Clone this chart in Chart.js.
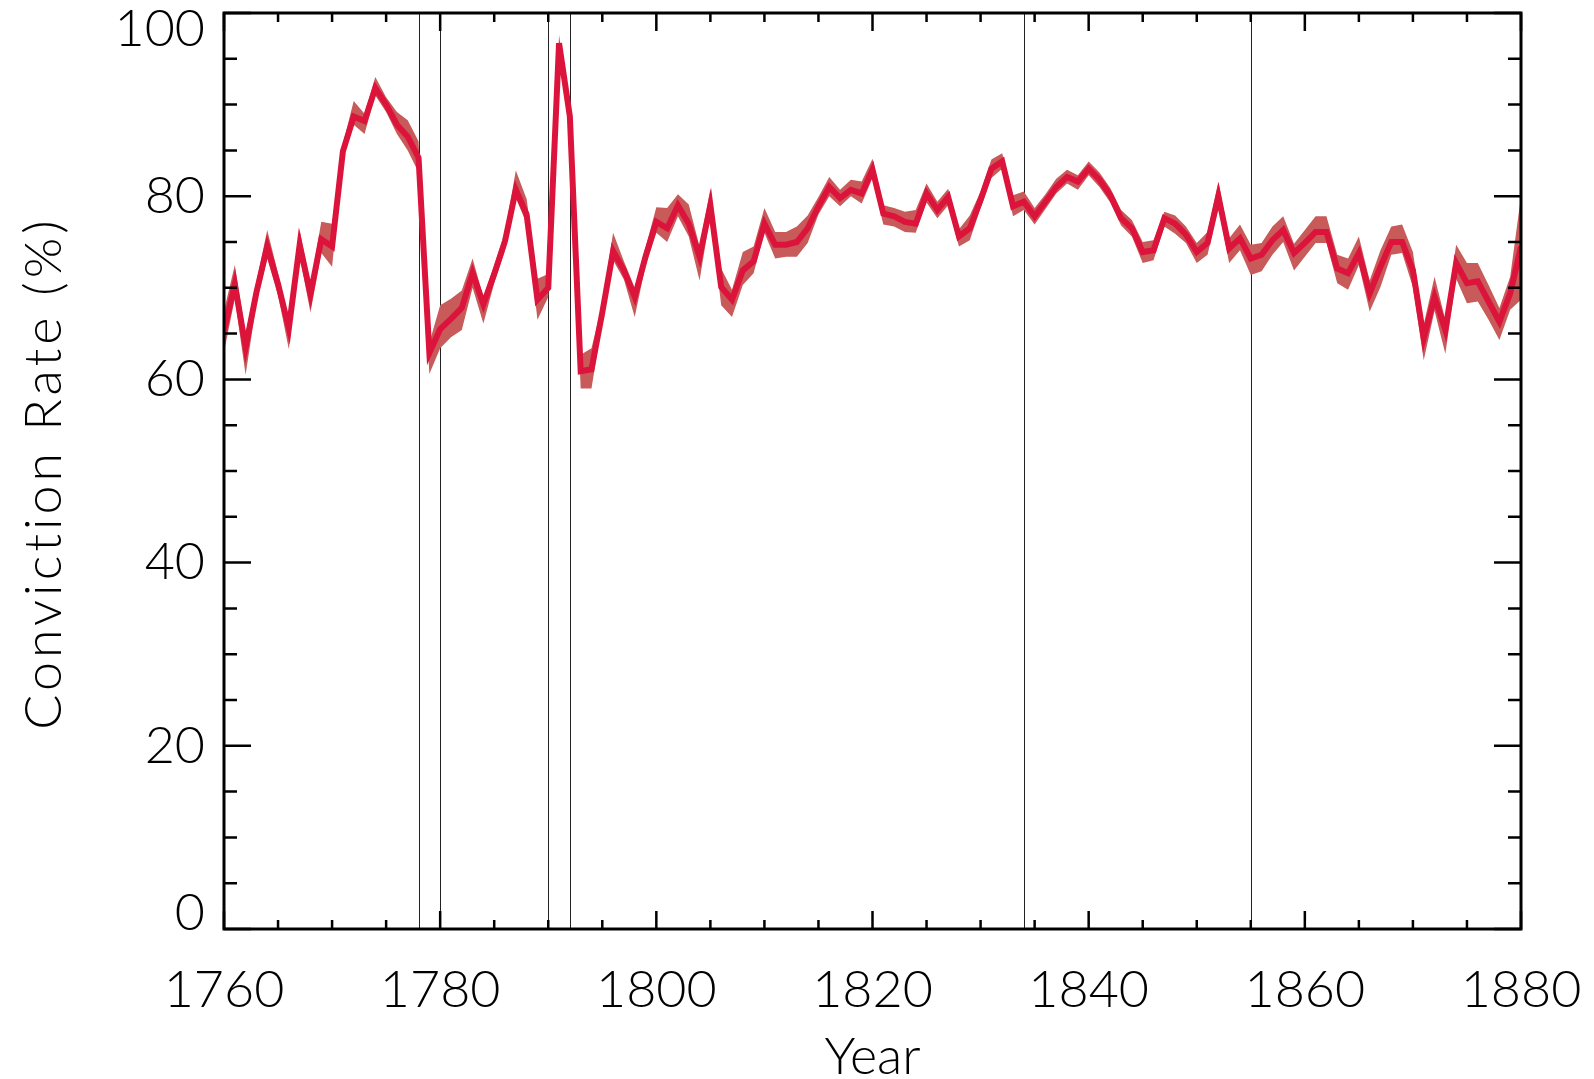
<!DOCTYPE html>
<html>
<head>
<meta charset="utf-8">
<script src="https://cdn.jsdelivr.net/npm/chart.js@4/dist/chart.umd.min.js"></script>
<style>
    html, body { margin: 0; padding: 0; background: #ffffff; }
    #conviction-chart { display: block; }
</style>
</head>
<body>
<canvas id="conviction-chart" width="1594" height="1079"></canvas>
<script>
const years = [
    1760, 1761, 1762, 1763, 1764, 1765, 1766, 1767, 1768, 1769,
    1770, 1771, 1772, 1773, 1774, 1775, 1776, 1777, 1778, 1779,
    1780, 1781, 1782, 1783, 1784, 1785, 1786, 1787, 1788, 1789,
    1790, 1791, 1792, 1793, 1794, 1795, 1796, 1797, 1798, 1799,
    1800, 1801, 1802, 1803, 1804, 1805, 1806, 1807, 1808, 1809,
    1810, 1811, 1812, 1813, 1814, 1815, 1816, 1817, 1818, 1819,
    1820, 1821, 1822, 1823, 1824, 1825, 1826, 1827, 1828, 1829,
    1830, 1831, 1832, 1833, 1834, 1835, 1836, 1837, 1838, 1839,
    1840, 1841, 1842, 1843, 1844, 1845, 1846, 1847, 1848, 1849,
    1850, 1851, 1852, 1853, 1854, 1855, 1856, 1857, 1858, 1859,
    1860, 1861, 1862, 1863, 1864, 1865, 1866, 1867, 1868, 1869,
    1870, 1871, 1872, 1873, 1874, 1875, 1876, 1877, 1878, 1879,
    1880
];

const convictionRate = [
    65.3, 70.4, 63.5, 69.5, 74.5, 70.4, 65.6, 74.7, 69.3, 75.3,
    74.5, 84.9, 88.7, 88.2, 91.8, 90.0, 87.8, 86.5, 84.2, 62.9,
    65.5, 66.6, 67.8, 71.6, 68.2, 71.5, 75.1, 80.7, 78.0, 68.7,
    70.0, 96.7, 88.7, 60.9, 61.1, 67.3, 74.0, 71.9, 69.0, 73.4,
    77.2, 76.5, 79.0, 77.0, 73.4, 79.0, 70.1, 68.7, 71.9, 72.9,
    77.0, 74.7, 74.7, 75.0, 76.5, 78.9, 81.0, 79.8, 80.7, 80.3,
    82.9, 78.1, 77.8, 77.2, 77.0, 80.3, 78.5, 79.9, 75.6, 76.5,
    79.6, 83.0, 83.8, 78.9, 79.4, 77.8, 79.4, 81.0, 82.1, 81.6,
    83.0, 81.8, 80.1, 77.6, 76.5, 73.9, 74.1, 77.6, 77.0, 75.8,
    73.9, 74.9, 80.0, 74.3, 75.4, 73.2, 73.6, 75.2, 76.3, 73.8,
    74.9, 76.1, 76.1, 72.1, 71.6, 73.8, 69.4, 72.3, 75.0, 75.0,
    71.9, 64.5, 69.0, 65.4, 72.7, 70.5, 70.7, 68.5, 66.3, 69.4,
    74.5
];

const rateLower = [
    63.0, 68.8, 60.5, 68.3, 73.2, 69.2, 63.3, 73.5, 67.3, 73.8,
    72.3, 84.1, 87.8, 86.8, 91.0, 89.2, 86.8, 85.0, 82.6, 60.6,
    63.4, 64.6, 65.4, 70.0, 66.1, 70.5, 74.1, 79.8, 77.0, 66.5,
    69.0, 96.0, 88.0, 59.0, 59.0, 66.3, 73.0, 70.9, 66.8, 72.4,
    76.0, 75.0, 77.8, 75.6, 70.8, 78.0, 68.1, 66.8, 70.3, 71.6,
    76.0, 73.2, 73.4, 73.4, 74.9, 78.0, 80.0, 78.9, 80.0, 79.2,
    82.0, 76.9, 76.7, 76.1, 76.0, 79.3, 77.6, 79.0, 74.5, 75.2,
    78.7, 82.0, 83.0, 77.8, 78.5, 76.9, 78.6, 80.3, 81.4, 80.7,
    82.3, 81.0, 79.3, 76.8, 75.6, 72.7, 73.0, 76.7, 75.9, 74.9,
    72.7, 73.6, 78.8, 72.7, 74.1, 71.4, 71.8, 73.6, 75.0, 71.9,
    73.4, 74.9, 74.9, 70.5, 69.8, 72.5, 67.4, 70.1, 73.6, 73.8,
    70.1, 62.1, 67.5, 62.8, 71.0, 68.3, 68.5, 66.5, 64.3, 67.6,
    68.7
];

const rateUpper = [
    67.5, 72.5, 65.0, 70.7, 76.3, 71.6, 66.6, 76.3, 70.3, 77.2,
    77.0, 85.7, 90.4, 89.0, 93.0, 90.8, 89.2, 88.3, 86.0, 64.0,
    68.1, 68.8, 69.7, 73.2, 69.0, 72.5, 76.1, 82.8, 79.7, 71.0,
    71.5, 97.6, 89.4, 62.7, 63.4, 68.3, 76.0, 72.9, 70.0, 74.4,
    78.8, 78.7, 80.2, 79.1, 74.5, 80.8, 72.1, 69.8, 73.9, 74.5,
    78.7, 76.1, 76.1, 76.7, 77.9, 79.9, 82.1, 80.7, 81.8, 81.6,
    84.1, 79.0, 78.7, 78.3, 78.5, 81.4, 79.4, 80.8, 76.4, 77.9,
    80.5, 84.0, 84.7, 80.1, 80.5, 78.7, 80.2, 81.9, 82.9, 82.3,
    83.8, 82.6, 80.9, 78.5, 77.4, 75.0, 75.2, 78.3, 77.9, 76.7,
    74.9, 76.1, 81.6, 75.4, 76.9, 74.7, 74.9, 76.7, 77.8, 74.8,
    76.3, 77.8, 77.8, 73.6, 73.2, 75.6, 70.8, 74.1, 76.7, 76.9,
    73.9, 66.0, 71.2, 66.5, 74.7, 72.7, 72.7, 70.3, 67.8, 71.2,
    80.0
];

const eventYears = [1778, 1780, 1790, 1792, 1834, 1855];

const xTickValues = [1760, 1780, 1800, 1820, 1840, 1860, 1880];
const xTickLabels = ["1760", "1780", "1800", "1820", "1840", "1860", "1880"];
const yTickValues = [0, 20, 40, 60, 80, 100];
const yTickLabels = ["0", "20", "40", "60", "80", "100"];

const xTitle = "Year";
const yTitle = "Conviction Rate (%)";

const labelFont = '300 52px Lato, "Open Sans", "DejaVu Sans", sans-serif';


function toPoints(values) {
    return years.map((yr, i) => ({ x: yr, y: values[i] }));
};


// draws the frame, inward ticks, labels and the marker lines
const idlAxesPlugin = {
    id: 'idlAxes',
    beforeDatasetsDraw(chart) {
        const { ctx, chartArea, scales } = chart;
        ctx.save();
        ctx.strokeStyle = "#222222";
        ctx.lineWidth = 1;
        eventYears.forEach(yr => {
            const px = Math.round(scales.x.getPixelForValue(yr)) + 0.5;
            ctx.beginPath();
            ctx.moveTo(px, chartArea.top);
            ctx.lineTo(px, chartArea.bottom);
            ctx.stroke();
        });
        ctx.restore();
    },
    afterDatasetsDraw(chart) {
        const { ctx, chartArea, scales } = chart;
        const { left, right, top, bottom } = chartArea;
        const xs = scales.x;
        const ys = scales.y;
        ctx.save();
        ctx.strokeStyle = "#000000";
        ctx.fillStyle = "#000000";

        // ticks (every 5, long every 20)
        ctx.lineWidth = 2.5;
        for (let v = xs.min; v <= xs.max; v += 5) {
            const px = xs.getPixelForValue(v);
            const len = (v - xs.min) % 20 === 0 ? 18 : 9;
            ctx.beginPath();
            ctx.moveTo(px, bottom);
            ctx.lineTo(px, bottom - len);
            ctx.moveTo(px, top);
            ctx.lineTo(px, top + len);
            ctx.stroke();
        };
        for (let v = ys.min; v <= ys.max; v += 5) {
            const py = ys.getPixelForValue(v);
            const len = v % 20 === 0 ? 27 : 13;
            ctx.beginPath();
            ctx.moveTo(left, py);
            ctx.lineTo(left + len, py);
            ctx.moveTo(right, py);
            ctx.lineTo(right - len, py);
            ctx.stroke();
        };

        // frame
        ctx.lineWidth = 3;
        ctx.strokeRect(left, top, right - left, bottom - top);

        // tick labels
        ctx.font = labelFont;
        ctx.textAlign = "center";
        ctx.textBaseline = "alphabetic";
        xTickValues.forEach((v, i) => {
            ctx.fillText(xTickLabels[i], xs.getPixelForValue(v), bottom + 78);
        });
        ctx.textAlign = "right";
        ctx.textBaseline = "middle";
        yTickValues.forEach((v, i) => {
            let py = ys.getPixelForValue(v);
            py = Math.min(Math.max(py, top + 16), bottom - 16);
            ctx.fillText(yTickLabels[i], left - 19, py);
        });

        // axis titles
        ctx.textAlign = "center";
        ctx.textBaseline = "alphabetic";
        ctx.fillText(xTitle, (left + right) / 2, 1074);

        ctx.translate(61, 473);
        ctx.rotate(-Math.PI / 2);
        ctx.letterSpacing = "4px";
        ctx.fillText(yTitle, 0, 0);
        ctx.restore();
    }
};


const convictionChartCanvas = document.querySelector("#conviction-chart");

const convictionChartConfig = {
    type: 'line',
    data: {
        datasets: [
            {
                label: 'Upper',
                data: toPoints(rateUpper),
                borderWidth: 0,
                pointRadius: 0,
                backgroundColor: "#c85a5a",
                fill: '+1',
                tension: 0,
                order: 2,
            },
            {
                label: 'Lower',
                data: toPoints(rateLower),
                borderWidth: 0,
                pointRadius: 0,
                fill: false,
                tension: 0,
                order: 2,
            },
            {
                label: 'Conviction Rate',
                data: toPoints(convictionRate),
                borderColor: "#dc143c",
                borderWidth: 6,
                borderJoinStyle: 'miter',
                pointRadius: 0,
                fill: false,
                tension: 0,
                order: 0,
            }
        ]
    },
    options: {
        responsive: false,
        animation: false,
        devicePixelRatio: 1,
        layout: {
            padding: { left: 224, right: 73, top: 13, bottom: 150 }
        },
        plugins: {
            legend: { display: false },
            tooltip: { enabled: false },
        },
        scales: {
            x: { type: 'linear', min: 1760, max: 1880, display: false },
            y: { type: 'linear', min: 0, max: 100, display: false },
        }
    },
    plugins: [idlAxesPlugin]
};

const convictionChart = new Chart(convictionChartCanvas, convictionChartConfig);
</script>
</body>
</html>
